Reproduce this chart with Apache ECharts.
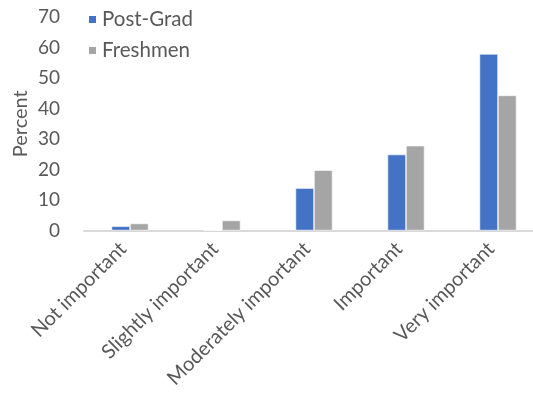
<!DOCTYPE html>
<html>
<head>
<meta charset="utf-8">
<script src="https://cdn.jsdelivr.net/npm/echarts@6/dist/echarts.min.js"></script>
<style>
  html, body { margin: 0; padding: 0; background: #fff; }
  #chart { width: 533px; height: 408px; }
</style>
</head>
<body>
<div id="chart"></div>
<script>
// Importance ratings by group (percent of respondents)
const categories = ['Not important', 'Slightly important', 'Moderately important', 'Important', 'Very important'];
const postGrad = [1.4, 0, 13.9, 24.9, 57.9];
const freshmen = [2.3, 3.3, 19.8, 27.8, 44.3];
const yTicks = { min: 0, max: 70, interval: 10 };

const FONT = 'Lato, "Open Sans", sans-serif';
const TEXT = '#595959';

const chart = echarts.init(document.getElementById('chart'), null, { renderer: 'canvas' });
chart.setOption({
  animation: false,
  backgroundColor: '#ffffff',
  textStyle: { fontFamily: FONT },
  legend: {
    orient: 'vertical',
    left: 82,
    top: 4,
    itemWidth: 9,
    itemHeight: 9,
    itemGap: 10,
    icon: 'rect',
    textStyle: { fontSize: 20.5, color: TEXT, fontFamily: FONT },
    data: ['Post-Grad', 'Freshmen']
  },
  // the plot area runs a little past the right edge of the canvas
  grid: { left: 84, top: 17, bottom: 177.5, width: 460, containLabel: false, outerBoundsMode: 'none' },
  xAxis: {
    type: 'category',
    data: categories,
    axisLine: { lineStyle: { color: '#D9D9D9', width: 2 } },
    axisTick: { show: false },
    axisLabel: {
      rotate: 45, fontSize: 20, color: TEXT, margin: 8, fontFamily: FONT, interval: 0,
      padding: [0, 10, 0, 0]
    }
  },
  yAxis: {
    type: 'value',
    min: yTicks.min,
    max: yTicks.max,
    interval: yTicks.interval,
    name: 'Percent',
    nameLocation: 'middle',
    nameGap: 53,
    nameRotate: 90,
    nameMoveOverlap: false,
    nameTextStyle: { fontSize: 20, color: TEXT, fontFamily: FONT },
    axisLine: { show: false },
    axisTick: { show: false },
    splitLine: { show: false },
    axisLabel: { fontSize: 19, color: TEXT, margin: 24, fontFamily: FONT }
  },
  series: [
    {
      name: 'Post-Grad',
      type: 'bar',
      data: postGrad,
      barWidth: 18.5,
      barGap: '0%',
      itemStyle: { color: '#4472C4', borderColor: '#ffffff', borderWidth: 0.6 }
    },
    {
      name: 'Freshmen',
      type: 'bar',
      data: freshmen,
      barWidth: 18.5,
      barGap: '0%',
      itemStyle: { color: '#A5A5A5', borderColor: '#ffffff', borderWidth: 0.6 }
    }
  ]
});
</script>
</body>
</html>
